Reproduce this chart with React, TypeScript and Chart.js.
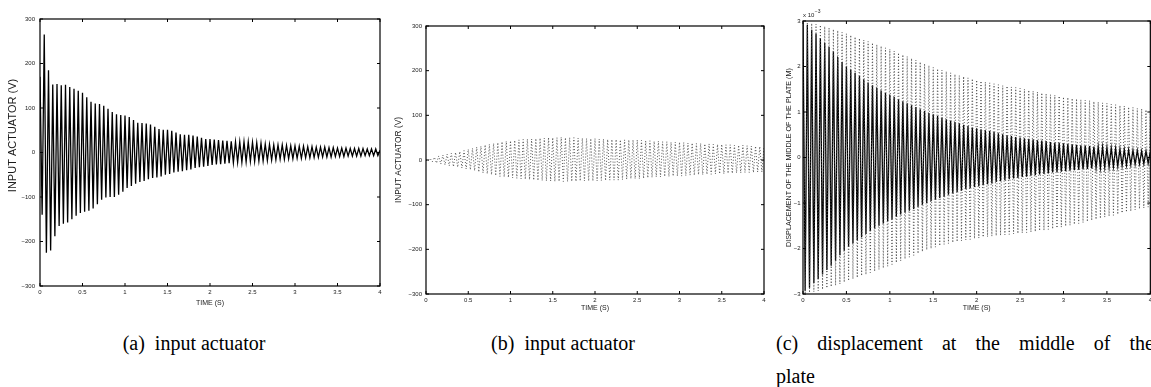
import React, { useEffect, useRef } from 'react';
import { Chart, registerables } from 'chart.js';

Chart.register(...registerables);

// Time between two successive extrema of the recorded signals (s)
const HALF_PERIOD = 0.025;

// ---- Panel (a): input actuator (V), closed loop ----
const aPeaks = [
  170, 265, 185, 153, 154, 151, 152, 147, 143, 139,
  134, 124, 114, 110, 109, 105, 98, 91, 86, 84,
  83, 80, 73, 67, 66, 65, 63, 58, 53, 51,
  51, 49, 45, 41, 40, 40, 38, 36, 33, 30,
  30, 29, 28, 27, 26, 25, 24, 24, 24, 24,
  23, 22, 21, 19, 18, 17, 17, 17, 16, 15,
  15, 14, 14, 13, 13, 12, 12, 12, 11, 11,
  10, 10, 10, 9, 9, 9, 9, 8, 8, 8,
  5,
];
const aTroughs = [
  -140, -225, -220, -188, -165, -160, -157, -150, -142, -136,
  -133, -131, -126, -116, -106, -101, -100, -100, -95, -88,
  -80, -75, -70, -66, -64, -60, -57, -56, -54, -50,
  -48, -45, -43, -42, -40, -38, -35, -33, -32, -30,
  -28, -27, -26, -25, -24, -23, -22, -22, -21, -20,
  -20, -19, -19, -18, -17, -16, -15, -15, -14, -14,
  -13, -13, -12, -12, -11, -11, -10, -10, -10, -9,
  -9, -9, -8, -8, -8, -8, -7, -7, -7, -7,
];

// ---- Panel (b): input actuator (V) ----
const bPeaks = [
  0, 3, 6, 9, 11, 13, 15, 17, 19, 21,
  24, 26, 29, 31, 34, 35, 37, 39, 41, 42,
  43, 44, 45, 46, 47, 47, 48, 49, 49, 50,
  50, 50, 51, 50, 50, 50, 49, 49, 48, 48,
  48, 47, 47, 46, 46, 46, 45, 45, 45, 45,
  45, 44, 43, 43, 42, 42, 41, 41, 40, 40,
  40, 39, 38, 38, 37, 37, 36, 36, 35, 35,
  35, 34, 34, 33, 33, 33, 32, 31, 31, 30,
  30,
];
const bTroughs = [
  -2, -4, -7, -9, -11, -13, -15, -16, -18, -20,
  -22, -24, -27, -29, -31, -33, -35, -37, -38, -39,
  -40, -41, -42, -43, -44, -45, -46, -46, -47, -47,
  -48, -48, -48, -48, -48, -48, -47, -47, -47, -47,
  -47, -46, -46, -45, -45, -45, -44, -43, -42, -42,
  -42, -41, -40, -39, -38, -38, -37, -37, -36, -36,
  -36, -35, -34, -34, -33, -33, -32, -32, -31, -31,
  -31, -30, -30, -29, -29, -28, -28, -28, -27, -27,
];

// ---- Panel (c): displacement of the middle of the plate (x 1e-3 m) ----
const cSolidPeaks = [
  2.95, 2.91, 2.81, 2.72, 2.62, 2.52, 2.43, 2.33, 2.21, 2.10,
  2.00, 1.93, 1.86, 1.79, 1.72, 1.65, 1.59, 1.53, 1.47, 1.42,
  1.38, 1.33, 1.28, 1.23, 1.19, 1.15, 1.11, 1.06, 1.02, 0.98,
  0.95, 0.91, 0.88, 0.84, 0.81, 0.78, 0.75, 0.72, 0.69, 0.66,
  0.64, 0.62, 0.60, 0.58, 0.56, 0.53, 0.51, 0.49, 0.47, 0.45,
  0.44, 0.42, 0.41, 0.40, 0.38, 0.37, 0.36, 0.34, 0.33, 0.32,
  0.31, 0.30, 0.29, 0.28, 0.27, 0.26, 0.25, 0.24, 0.23, 0.23,
  0.22, 0.21, 0.20, 0.19, 0.18, 0.17, 0.16, 0.15, 0.14, 0.14,
  0.13,
];
const cSolidTroughs = [
  -2.93, -2.86, -2.76, -2.67, -2.57, -2.47, -2.38, -2.27, -2.15, -2.05,
  -1.96, -1.89, -1.82, -1.75, -1.68, -1.62, -1.56, -1.50, -1.45, -1.40,
  -1.35, -1.30, -1.25, -1.21, -1.17, -1.13, -1.08, -1.04, -1.00, -0.96,
  -0.93, -0.89, -0.86, -0.82, -0.79, -0.76, -0.73, -0.70, -0.67, -0.65,
  -0.63, -0.61, -0.59, -0.57, -0.54, -0.52, -0.50, -0.48, -0.46, -0.45,
  -0.43, -0.42, -0.40, -0.39, -0.37, -0.36, -0.35, -0.33, -0.32, -0.31,
  -0.30, -0.29, -0.28, -0.27, -0.26, -0.25, -0.24, -0.23, -0.23, -0.22,
  -0.21, -0.20, -0.19, -0.18, -0.17, -0.16, -0.15, -0.14, -0.14, -0.13,
];
const cDottedPeaks = [
  2.98, 2.97, 2.95, 2.93, 2.91, 2.88, 2.85, 2.82, 2.79, 2.75,
  2.72, 2.69, 2.65, 2.62, 2.58, 2.55, 2.52, 2.48, 2.45, 2.41,
  2.38, 2.34, 2.30, 2.26, 2.22, 2.18, 2.14, 2.10, 2.06, 2.02,
  1.98, 1.95, 1.92, 1.89, 1.86, 1.83, 1.80, 1.78, 1.75, 1.73,
  1.70, 1.68, 1.66, 1.64, 1.62, 1.60, 1.58, 1.57, 1.55, 1.54,
  1.52, 1.50, 1.48, 1.46, 1.44, 1.42, 1.40, 1.38, 1.37, 1.35,
  1.33, 1.32, 1.30, 1.29, 1.27, 1.26, 1.25, 1.23, 1.22, 1.20,
  1.19, 1.17, 1.16, 1.14, 1.13, 1.11, 1.10, 1.08, 1.07, 1.05,
  1.04,
];
const cDottedTroughs = [
  -2.98, -2.97, -2.95, -2.93, -2.90, -2.87, -2.84, -2.81, -2.78, -2.74,
  -2.71, -2.67, -2.64, -2.60, -2.57, -2.53, -2.50, -2.46, -2.43, -2.39,
  -2.35, -2.31, -2.27, -2.23, -2.19, -2.15, -2.11, -2.07, -2.03, -2.00,
  -1.97, -1.94, -1.91, -1.89, -1.87, -1.85, -1.83, -1.81, -1.80, -1.78,
  -1.77, -1.75, -1.74, -1.73, -1.72, -1.71, -1.70, -1.69, -1.68, -1.67,
  -1.66, -1.65, -1.64, -1.63, -1.61, -1.60, -1.58, -1.57, -1.55, -1.53,
  -1.51, -1.49, -1.47, -1.45, -1.43, -1.41, -1.38, -1.36, -1.34, -1.31,
  -1.29, -1.27, -1.25, -1.22, -1.20, -1.18, -1.15, -1.13, -1.11, -1.09,
];

const SANS = "'Liberation Sans', Arial, Helvetica, sans-serif";
const SERIF = "'Liberation Serif', 'Times New Roman', Times, serif";
const TEXT = '#1a1a1a';

function zigzag(peaks: number[], troughs: number[]) {
  const pts: { x: number; y: number }[] = [];
  for (let i = 0; i < peaks.length; i++) {
    pts.push({ x: 2 * i * HALF_PERIOD, y: peaks[i] });
    if (i < troughs.length) pts.push({ x: (2 * i + 1) * HALF_PERIOD, y: troughs[i] });
  }
  return pts;
}

const minusFmt = (v: any) => {
  const n = Number(v);
  return n < 0 ? '\u2212' + String(Math.abs(n)) : String(n);
};

const boxPlugin = {
  id: 'matlabBox',
  afterDraw(chart: any) {
    const { ctx, chartArea } = chart;
    const { left, right, top, bottom } = chartArea;
    const xs = chart.scales.x;
    const ys = chart.scales.y;
    const tl = 3;
    ctx.save();
    ctx.strokeStyle = '#000';
    ctx.lineWidth = 1.2;
    ctx.strokeRect(left, top, right - left, bottom - top);
    ctx.lineWidth = 1;
    ctx.beginPath();
    xs.ticks.forEach((t: any) => {
      const px = xs.getPixelForValue(t.value);
      ctx.moveTo(px, bottom);
      ctx.lineTo(px, bottom - tl);
      ctx.moveTo(px, top);
      ctx.lineTo(px, top + tl);
    });
    ys.ticks.forEach((t: any) => {
      const py = ys.getPixelForValue(t.value);
      ctx.moveTo(left, py);
      ctx.lineTo(left + tl, py);
      ctx.moveTo(right, py);
      ctx.lineTo(right - tl, py);
    });
    ctx.stroke();
    ctx.restore();
  },
};

const expPlugin = {
  id: 'expLabel',
  afterDraw(chart: any) {
    const { ctx, chartArea } = chart;
    ctx.save();
    ctx.fillStyle = TEXT;
    ctx.textAlign = 'left';
    ctx.textBaseline = 'middle';
    ctx.font = `6px ${SANS}`;
    const base = 'x 10';
    ctx.fillText(base, chartArea.left, chartArea.top - 6);
    const w = ctx.measureText(base).width;
    ctx.font = `5px ${SANS}`;
    ctx.fillText('\u22123', chartArea.left + w + 0.5, chartArea.top - 9);
    ctx.restore();
  },
};

// Panel (a) y-axis title sits above the axis centre in the original figure
const shiftedYTitle = {
  id: 'shiftedYTitle',
  afterDraw(chart: any) {
    const { ctx, chartArea } = chart;
    const mid = (chartArea.top + chartArea.bottom) / 2 - 17;
    ctx.save();
    ctx.fillStyle = TEXT;
    ctx.font = `11px ${SANS}`;
    ctx.textAlign = 'center';
    ctx.textBaseline = 'middle';
    ctx.translate(13, mid);
    ctx.rotate(-Math.PI / 2);
    ctx.fillText('INPUT ACTUATOR (V)', 0, 0);
    ctx.restore();
  },
};

type Spec = {
  left: number; top: number; w: number; h: number;
  datasets: any[];
  yMin: number; yMax: number; yStep: number;
  yTitle: string; yTitleSize: number; yTitlePad: number; yTitleShow: boolean;
  yWidth: number; yTickPad: number;
  xHeight: number; xTickPad: number; xTitlePad: number;
  padding: { top: number; right: number; left: number; bottom: number };
  extra?: any[];
};

function buildConfig(s: Spec): any {
  return {
    type: 'line',
    data: { datasets: s.datasets },
    options: {
      animation: false,
      responsive: false,
      maintainAspectRatio: false,
      devicePixelRatio: 1,
      layout: { padding: s.padding },
      plugins: { legend: { display: false }, tooltip: { enabled: false }, title: { display: false } },
      elements: { point: { radius: 0 }, line: { tension: 0 } },
      scales: {
        x: {
          type: 'linear',
          min: 0,
          max: 4,
          ticks: {
            stepSize: 0.5, padding: s.xTickPad, color: TEXT, autoSkip: false, maxRotation: 0,
            font: { family: SANS, size: 6 },
            callback: (v: any) => String(v),
          },
          grid: { display: false, drawTicks: false },
          border: { display: false },
          title: {
            display: true, text: 'TIME (S)', color: TEXT,
            font: { family: SANS, size: 7 },
            padding: { top: 0, bottom: s.xTitlePad },
          },
          afterFit: (sc: any) => { sc.height = s.xHeight; },
        },
        y: {
          type: 'linear',
          min: s.yMin,
          max: s.yMax,
          ticks: {
            stepSize: s.yStep, padding: s.yTickPad, color: TEXT, autoSkip: false,
            font: { family: SANS, size: 6 },
            callback: minusFmt,
          },
          grid: { display: false, drawTicks: false },
          border: { display: false },
          title: {
            display: s.yTitleShow, text: s.yTitle, color: TEXT,
            font: { family: SANS, size: s.yTitleSize },
            padding: { top: s.yTitlePad, bottom: 0 },
          },
          afterFit: (sc: any) => { sc.width = s.yWidth; },
        },
      },
    },
    plugins: [boxPlugin, ...(s.extra || [])],
  };
}

const specA: Spec = {
  left: 0, top: 0, w: 395, h: 312,
  datasets: [
    { data: zigzag(aPeaks, aTroughs), borderColor: '#000', borderWidth: 1.3, pointRadius: 0 },
  ],
  yMin: -300, yMax: 300, yStep: 100,
  yTitle: 'INPUT ACTUATOR (V)', yTitleSize: 11, yTitlePad: 6.4, yTitleShow: false,
  yWidth: 40, yTickPad: 5,
  xHeight: 26, xTickPad: 3, xTitlePad: 5,
  padding: { top: 19, right: 15, left: 0, bottom: 0 },
  extra: [shiftedYTitle],
};

const specB: Spec = {
  left: 385, top: 0, w: 390, h: 318,
  datasets: [
    { data: zigzag(bPeaks, bTroughs), borderColor: '#444', borderWidth: 0.9, borderDash: [1, 2], pointRadius: 0 },
  ],
  yMin: -300, yMax: 300, yStep: 100,
  yTitle: 'INPUT ACTUATOR (V)', yTitleSize: 8.4, yTitlePad: 8.3, yTitleShow: true,
  yWidth: 41, yTickPad: 4,
  xHeight: 24, xTickPad: 3, xTitlePad: 5.8,
  padding: { top: 26, right: 11, left: 0, bottom: 0 },
};

const specC: Spec = {
  left: 770, top: 0, w: 385, h: 318,
  datasets: [
    { data: zigzag(cDottedPeaks, cDottedTroughs), borderColor: '#444', borderWidth: 0.9, borderDash: [1, 2], pointRadius: 0 },
    { data: zigzag(cSolidPeaks, cSolidTroughs), borderColor: '#000', borderWidth: 1.3, pointRadius: 0 },
  ],
  yMin: -3, yMax: 3, yStep: 1,
  yTitle: 'DISPLACEMENT OF THE MIDDLE OF THE PLATE (M)', yTitleSize: 7.2, yTitlePad: 15, yTitleShow: true,
  yWidth: 33, yTickPad: 2.5,
  xHeight: 24, xTickPad: 3, xTitlePad: 5.8,
  padding: { top: 21, right: 0, left: 0, bottom: 0 },
  extra: [expPlugin],
};

function Panel({ spec }: { spec: Spec }) {
  const ref = useRef<HTMLCanvasElement>(null);
  useEffect(() => {
    const chart = new Chart(ref.current as HTMLCanvasElement, buildConfig(spec));
    return () => chart.destroy();
  }, [spec]);
  return (
    <canvas
      ref={ref}
      width={spec.w}
      height={spec.h}
      style={{ position: 'absolute', left: spec.left, top: spec.top, width: spec.w, height: spec.h }}
    />
  );
}

const captionStyle: React.CSSProperties = {
  position: 'absolute',
  fontFamily: SERIF,
  fontSize: 20,
  lineHeight: '20px',
  whiteSpace: 'nowrap',
  color: '#000',
};

export default function App() {
  useEffect(() => {
    document.body.style.margin = '0';
  }, []);
  return (
    <div style={{ position: 'absolute', left: 0, top: 0, width: 1151, height: 387, overflow: 'hidden', background: '#fff' }}>
      <Panel spec={specA} />
      <Panel spec={specB} />
      <Panel spec={specC} />
      <div style={{ ...captionStyle, left: 94, top: 333, width: 200, textAlign: 'center' }}>(a)&nbsp; input actuator</div>
      <div style={{ ...captionStyle, left: 463, top: 333, width: 200, textAlign: 'center' }}>(b)&nbsp; input actuator</div>
      <div style={{ ...captionStyle, left: 776, top: 333, width: 378, textAlign: 'justify', textAlignLast: 'justify' as any }}>
        (c) displacement at the middle of the
      </div>
      <div style={{ ...captionStyle, left: 776, top: 366 }}>plate</div>
    </div>
  );
}
